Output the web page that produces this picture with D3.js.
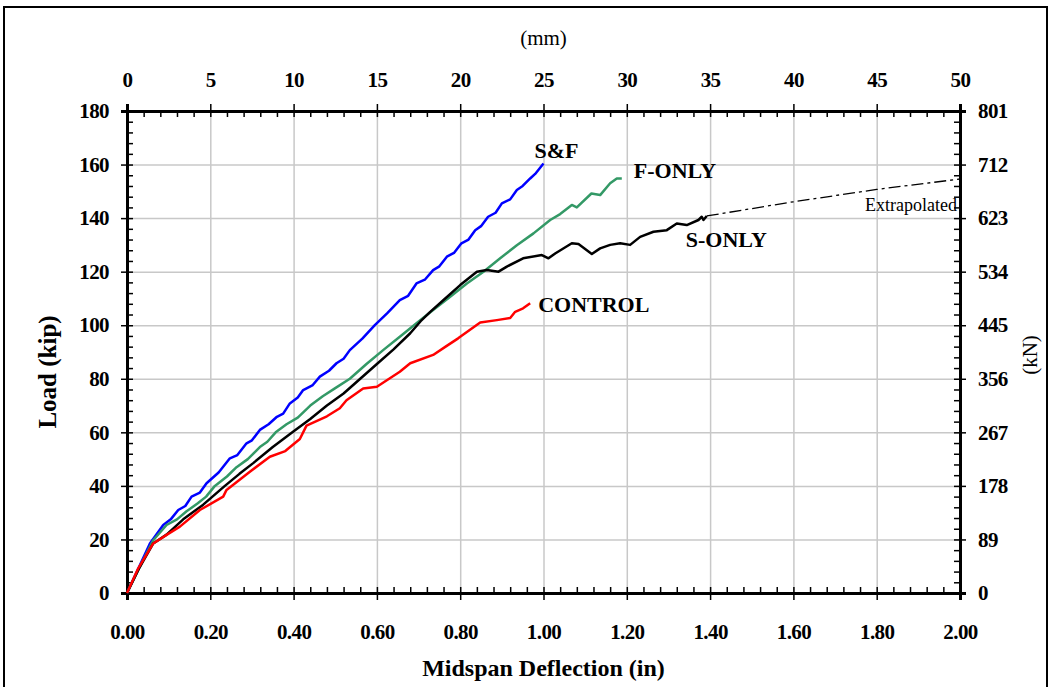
<!DOCTYPE html>
<html>
<head>
<meta charset="utf-8">
<script src="https://cdn.jsdelivr.net/npm/d3@7"></script>
<style>
  body { margin: 0; background: #fff; }
  svg { display: block; }
  .axis path, .axis line { stroke: #000; }
  .axis text { font-family: "Liberation Serif", serif; font-weight: bold; font-size: 21px; letter-spacing: -0.6px; fill: #000; }
  .grid line { stroke: #c8c8c8; stroke-width: 1.5; }
  .grid path { display: none; }
</style>
</head>
<body>
<div id="chart"></div>
<script>
// midspan deflection (in) vs load (kip)
var sfData = [[0,0],[0.027,9],[0.055,18.5],[0.087,25.4],[0.105,27.5],[0.123,31],[0.14,32.5],[0.155,36],[0.175,37.5],[0.191,41],
  [0.22,45],[0.247,50.3],[0.265,51.5],[0.287,55.9],[0.3,57],[0.319,60.9],[0.34,63],[0.36,65.8],[0.375,67],[0.391,70.8],
  [0.41,73],[0.423,75.8],[0.445,77.5],[0.463,80.8],[0.485,83],[0.503,85.8],[0.52,87.5],[0.535,90.7],[0.565,95],[0.595,100],
  [0.625,104.5],[0.655,109.4],[0.675,111],[0.695,115.6],[0.715,117],[0.735,120.6],[0.75,122],[0.768,125.6],[0.785,127],
  [0.803,130.6],[0.82,132],[0.836,135.5],[0.85,137],[0.867,140.5],[0.885,142],[0.9,145.5],[0.92,147],[0.936,150.5],
  [0.95,152],[0.968,154.8],[0.98,156.5],[1.0,160.4]];
var fOnlyData = [[0,0],[0.03,9.5],[0.063,19.7],[0.095,25.4],[0.12,27.5],[0.143,30.5],[0.17,33.5],[0.19,36],[0.211,40],
  [0.24,43.5],[0.263,47],[0.29,50],[0.319,54.5],[0.337,56.5],[0.357,60],[0.383,63],[0.41,65.5],[0.44,70],[0.47,73.5],
  [0.5,76.5],[0.535,80],[0.575,85.5],[0.615,90.7],[0.655,95.7],[0.695,100.7],[0.735,105.7],[0.776,110.6],[0.816,115.6],
  [0.856,120],[0.896,125],[0.936,129.9],[0.976,134.3],[1.016,139.3],[1.04,141.5],[1.068,144.9],[1.08,144],[1.115,149.2],
  [1.136,148.6],[1.16,153],[1.176,154.8],[1.188,154.8]];
var sOnlyData = [[0,0],[0.03,9.5],[0.063,18.5],[0.095,21.8],[0.135,27.5],[0.183,33],[0.235,40],[0.27,44.5],[0.303,48.5],
  [0.35,54.5],[0.397,60],[0.44,65],[0.48,70],[0.52,74.5],[0.56,80],[0.6,85.5],[0.64,91],[0.68,97],[0.705,101.5],
  [0.728,105],[0.76,109.4],[0.8,115],[0.84,120],[0.864,120.6],[0.892,120],[0.912,121.9],[0.951,125],[0.996,126.2],
  [1.012,125],[1.028,126.8],[1.068,130.6],[1.084,130.3],[1.116,126.6],[1.136,128.7],[1.16,130],[1.184,130.6],[1.208,130],
  [1.232,133],[1.264,134.9],[1.296,135.5],[1.32,138],[1.344,137.4],[1.372,139.3],[1.38,140.5],[1.384,139.3],[1.392,140.8]];
var extrapData = [[1.392,140.8],[1.6,146.1],[1.8,150.7],[2.0,154.6]];
var controlData = [[0,0],[0.027,9.2],[0.063,18.5],[0.095,21.7],[0.127,24.8],[0.175,31],[0.231,36],[0.239,38.5],[0.295,45.3],
  [0.343,50.9],[0.38,53],[0.415,57.5],[0.431,62.5],[0.48,66],[0.511,69],[0.527,72],[0.567,76.4],[0.6,77],[0.655,82.6],
  [0.68,85.8],[0.735,88.9],[0.765,92],[0.795,95.1],[0.848,101],[0.888,101.9],[0.92,102.7],[0.932,105],[0.951,106.3],
  [0.968,108.2]];

var inTicks = [0, 0.2, 0.4, 0.6, 0.8, 1.0, 1.2, 1.4, 1.6, 1.8, 2.0];
var mmTicks = [0, 5, 10, 15, 20, 25, 30, 35, 40, 45, 50];
var kipTicks = [0, 20, 40, 60, 80, 100, 120, 140, 160, 180];
var kNTicks = [0, 89, 178, 267, 356, 445, 534, 623, 712, 801];

var series = [
  { name: "S&F", data: sfData, color: "#0000ff" },
  { name: "F-ONLY", data: fOnlyData, color: "#339966" },
  { name: "S-ONLY", data: sOnlyData, color: "#000000" },
  { name: "CONTROL", data: controlData, color: "#ff0000" }
];

var margin = { top: 111, right: 89, bottom: 94, left: 127 };
var width = 1049 - margin.left - margin.right;
var height = 687 - margin.top - margin.bottom;

var root = d3.select("#chart").append("svg")
    .attr("width", 1049)
    .attr("height", 687);

// outer frame
root.append("rect")
    .attr("x", 4).attr("y", 7)
    .attr("width", 1043).attr("height", 700)
    .attr("fill", "none")
    .attr("stroke", "#000")
    .attr("stroke-width", 2);

var svg = root.append("g")
    .attr("transform", "translate(" + margin.left + "," + margin.top + ")");

// scales
var x = d3.scaleLinear().domain([0, 2]).range([0, width]);
var xMm = d3.scaleLinear().domain([0, 50]).range([0, width]);
var y = d3.scaleLinear().domain([0, 180]).range([height, 0]);
var yKN = d3.scaleLinear().domain([0, 801]).range([height, 0]);

// gridlines
svg.append("g").attr("class", "grid")
    .attr("transform", "translate(0," + height + ")")
    .call(d3.axisBottom(x).tickValues(inTicks).tickSize(-height).tickFormat(""));
svg.append("g").attr("class", "grid")
    .call(d3.axisLeft(y).tickValues(kipTicks).tickSize(-width).tickFormat(""));

// minor ticks (inward)
function minor(step, max) {
    return d3.range(0, max + step / 2, step).map(function(v) { return +v.toFixed(4); });
}
function minorStyle(g) {
    g.select(".domain").remove();
    g.selectAll("line").attr("stroke-width", 1.5);
}
svg.append("g").attr("class", "axis")
    .attr("transform", "translate(0," + height + ")")
    .call(d3.axisBottom(x).tickValues(minor(0.04, 2)).tickSize(-6).tickFormat(""))
    .call(minorStyle);
svg.append("g").attr("class", "axis")
    .call(d3.axisTop(xMm).tickValues(minor(1, 50)).tickSize(-6).tickFormat(""))
    .call(minorStyle);
svg.append("g").attr("class", "axis")
    .call(d3.axisLeft(y).tickValues(minor(4, 180)).tickSize(-6).tickFormat(""))
    .call(minorStyle);
svg.append("g").attr("class", "axis")
    .attr("transform", "translate(" + width + ",0)")
    .call(d3.axisRight(yKN).tickValues(minor(17.8, 801)).tickSize(-6).tickFormat(""))
    .call(minorStyle);

// main axes
function styleAxis(g) {
    g.select(".domain").attr("stroke-width", 3);
    g.selectAll(".tick line").attr("stroke-width", 1.5);
}
svg.append("g").attr("class", "axis")
    .attr("transform", "translate(0," + height + ")")
    .call(d3.axisBottom(x).tickValues(inTicks).tickSizeOuter(0).tickSize(7).tickPadding(24)
        .tickFormat(d3.format(".2f")))
    .call(styleAxis);
svg.append("g").attr("class", "axis")
    .call(d3.axisTop(xMm).tickValues(mmTicks).tickSizeOuter(0).tickSize(7).tickPadding(17))
    .call(styleAxis);
svg.append("g").attr("class", "axis")
    .call(d3.axisLeft(y).tickValues(kipTicks).tickSizeOuter(0).tickSize(6).tickPadding(12))
    .call(styleAxis);
svg.append("g").attr("class", "axis")
    .attr("transform", "translate(" + width + ",0)")
    .call(d3.axisRight(yKN).tickValues(kNTicks).tickSizeOuter(0).tickSize(6).tickPadding(12))
    .call(styleAxis);

// curves
var line = d3.line()
    .x(function(d) { return x(d[0]); })
    .y(function(d) { return y(d[1]); });

svg.append("path")
    .datum(extrapData)
    .attr("fill", "none")
    .attr("stroke", "#000")
    .attr("stroke-width", 1.3)
    .attr("stroke-dasharray", "12,4,3,4")
    .attr("d", line);

svg.selectAll(".curve")
    .data(series)
    .enter()
    .append("path")
    .attr("class", "curve")
    .attr("fill", "none")
    .attr("stroke", function(d) { return d.color; })
    .attr("stroke-width", 2.5)
    .attr("stroke-linejoin", "round")
    .attr("d", function(d) { return line(d.data); });

// series labels
var labels = [
  { text: "S&F", at: [1.0, 161], dx: -9, dy: -4 },
  { text: "F-ONLY", at: [1.188, 155], dx: 12, dy: 0 },
  { text: "S-ONLY", at: [1.392, 140.8], dx: -21, dy: 31 },
  { text: "CONTROL", at: [0.968, 108.2], dx: 8, dy: 9 }
];
svg.selectAll(".series-label")
    .data(labels)
    .enter()
    .append("text")
    .attr("class", "series-label")
    .attr("x", function(d) { return x(d.at[0]) + d.dx; })
    .attr("y", function(d) { return y(d.at[1]) + d.dy; })
    .style("font-family", "Liberation Serif, serif")
    .style("font-weight", "bold")
    .style("font-size", "22px")
    .text(function(d) { return d.text; });

svg.append("text")
    .attr("x", width - 3)
    .attr("y", y(142.5))
    .attr("text-anchor", "end")
    .style("font-family", "Liberation Serif, serif")
    .style("font-size", "18px")
    .text("Extrapolated");

// axis titles
svg.append("text")
    .attr("x", width / 2)
    .attr("y", height + 83)
    .attr("text-anchor", "middle")
    .style("font-family", "Liberation Serif, serif")
    .style("font-weight", "bold")
    .style("font-size", "24px")
    .text("Midspan Deflection (in)");

svg.append("text")
    .attr("x", width / 2)
    .attr("y", -66)
    .attr("text-anchor", "middle")
    .style("font-family", "Liberation Serif, serif")
    .style("font-size", "21px")
    .text("(mm)");

svg.append("text")
    .attr("transform", "translate(" + (-71) + "," + (height / 2 + 20) + ") rotate(-90)")
    .attr("text-anchor", "middle")
    .style("font-family", "Liberation Serif, serif")
    .style("font-weight", "bold")
    .style("font-size", "25px")
    .text("Load (kip)");

svg.append("text")
    .attr("transform", "translate(" + (width + 77) + "," + (height / 2 + 3) + ") rotate(-90)")
    .attr("text-anchor", "middle")
    .style("font-family", "Liberation Serif, serif")
    .style("font-size", "21px")
    .text("(kN)");
</script>
</body>
</html>
